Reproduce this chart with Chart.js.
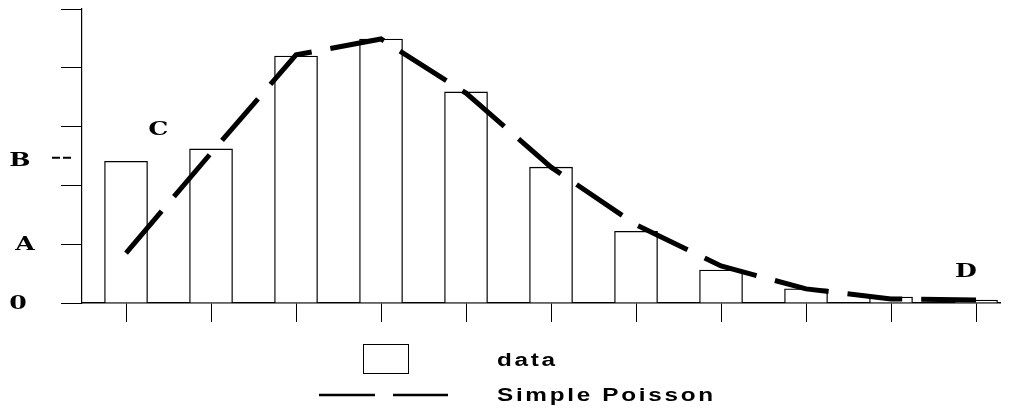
<!DOCTYPE html>
<html>
<head>
<meta charset="utf-8">
<script src="https://cdn.jsdelivr.net/npm/chart.js@4.4.1/dist/chart.umd.min.js"></script>
<style>
  html, body { margin: 0; padding: 0; background: #fff; }
  #wrap { position: relative; width: 1010px; height: 415px; }
</style>
</head>
<body>
<div id="wrap"><canvas id="chart"></canvas></div>
<script>
// x positions of the bins (one bar and one poisson point per bin)
const categories = [1, 2, 3, 4, 5, 6, 7, 8, 9, 10, 11];
// measured histogram
const dataValues = [2.41, 2.62, 4.2, 4.49, 3.59, 2.31, 1.22, 0.56, 0.24, 0.1, 0.05];
// fitted simple poisson curve
const poissonValues = [0.85, 2.55, 4.22, 4.49, 3.57, 2.31, 1.33, 0.63, 0.24, 0.07, 0.05];
// y axis ticks (marks) and the letters written beside the axis
const yTicks = [0, 1, 2, 3, 4, 5];
const yTickLabels = ["0", "A", "B"];
const yTickLabelValues = [0, 1, 2.42];
// letters written inside the plot, in data units
const noteLabels = ["C", "D"];
const noteX = [1.38, 10.88];
const noteY = [2.93, 0.52];
const legendLabels = ["data", "Simple Poisson"];

const serifFont = "bold 18px 'DejaVu Serif', 'Liberation Serif', serif";
const sansFont = "bold 18px 'Liberation Sans', Arial, sans-serif";

// stretched text like the scanned original
function wideText(ctx, text, x, y, sx, align) {
  ctx.save();
  ctx.translate(x, y);
  ctx.scale(sx, 1);
  ctx.textAlign = align || "center";
  ctx.fillText(text, 0, 0);
  ctx.restore();
}

const notesPlugin = {
  id: "notes",
  afterDraw: (chart) => {
    const { ctx, scales } = chart;
    ctx.save();
    ctx.fillStyle = "#000";
    ctx.textBaseline = "middle";
    ctx.font = serifFont;

    // letters on the y axis side
    const yLabelX = [18, 25, 20];
    yTickLabels.forEach((t, i) => {
      wideText(ctx, t, yLabelX[i], scales.y.getPixelForValue(yTickLabelValues[i]) + 1, 1.4);
    });

    // small dash next to B
    ctx.strokeStyle = "#000";
    ctx.lineWidth = 2;
    ctx.setLineDash([8, 3]);
    const by = scales.y.getPixelForValue(yTickLabelValues[2]) - 3;
    ctx.beginPath();
    ctx.moveTo(52, by);
    ctx.lineTo(71, by);
    ctx.stroke();
    ctx.setLineDash([]);

    // C and D inside the plot
    noteLabels.forEach((t, i) => {
      wideText(ctx, t, scales.x.getPixelForValue(noteX[i]), scales.y.getPixelForValue(noteY[i]), 1.4);
    });

    // legend
    ctx.lineWidth = 1;
    ctx.strokeRect(363.5, 344.5, 45, 29);

    ctx.lineWidth = 2.5;
    ctx.setLineDash([56, 18]);
    ctx.beginPath();
    ctx.moveTo(319, 395);
    ctx.lineTo(448, 395);
    ctx.stroke();
    ctx.setLineDash([]);

    ctx.font = sansFont;
    ctx.letterSpacing = "2px";
    ctx.textBaseline = "alphabetic";
    wideText(ctx, legendLabels[0], 497, 366, 1.35, "left");
    wideText(ctx, legendLabels[1], 497, 401, 1.35, "left");
    ctx.restore();
  },
};

const ctx = document.getElementById("chart").getContext("2d");
new Chart(ctx, {
  type: "bar",
  data: {
    datasets: [
      {
        type: "line",
        label: legendLabels[1],
        data: categories.map((x, i) => ({ x: x, y: poissonValues[i] })),
        borderColor: "#000",
        borderWidth: 5,
        borderDash: [55, 19],
        borderCapStyle: "butt",
        pointRadius: 0,
        tension: 0,
        fill: false,
        order: 0,
      },
      {
        type: "bar",
        label: legendLabels[0],
        data: categories.map((x, i) => ({ x: x, y: dataValues[i] })),
        backgroundColor: "#fff",
        borderColor: "#000",
        borderWidth: 1.3,
        borderSkipped: "bottom",
        barThickness: 43,
        order: 1,
      },
    ],
  },
  options: {
    responsive: true,
    maintainAspectRatio: false,
    animation: false,
    layout: { padding: { left: 0, top: 9, right: 10, bottom: 0 } },
    plugins: {
      legend: { display: false },
      tooltip: { enabled: false },
    },
    scales: {
      x: {
        type: "linear",
        min: 0.482,
        max: 11.282,
        offset: false,
        afterBuildTicks: (scale) => {
          scale.ticks = categories.map((v) => ({ value: v }));
        },
        afterFit: (scale) => {
          scale.height = 112;
        },
        ticks: { display: false },
        grid: {
          offset: false,
          drawOnChartArea: false,
          drawTicks: true,
          tickLength: 19,
          tickColor: "#000",
          tickWidth: 1,
        },
        border: { display: true, color: "#000", width: 1.5 },
      },
      y: {
        min: 0,
        max: 5,
        afterBuildTicks: (scale) => {
          scale.ticks = yTicks.map((v) => ({ value: v }));
        },
        afterFit: (scale) => {
          scale.width = 82;
        },
        ticks: { display: false },
        grid: {
          drawOnChartArea: false,
          drawTicks: true,
          tickLength: 21,
          tickColor: "#000",
          tickWidth: 1,
        },
        border: { display: true, color: "#000", width: 1.2 },
      },
    },
  },
  plugins: [notesPlugin],
});
</script>
</body>
</html>
